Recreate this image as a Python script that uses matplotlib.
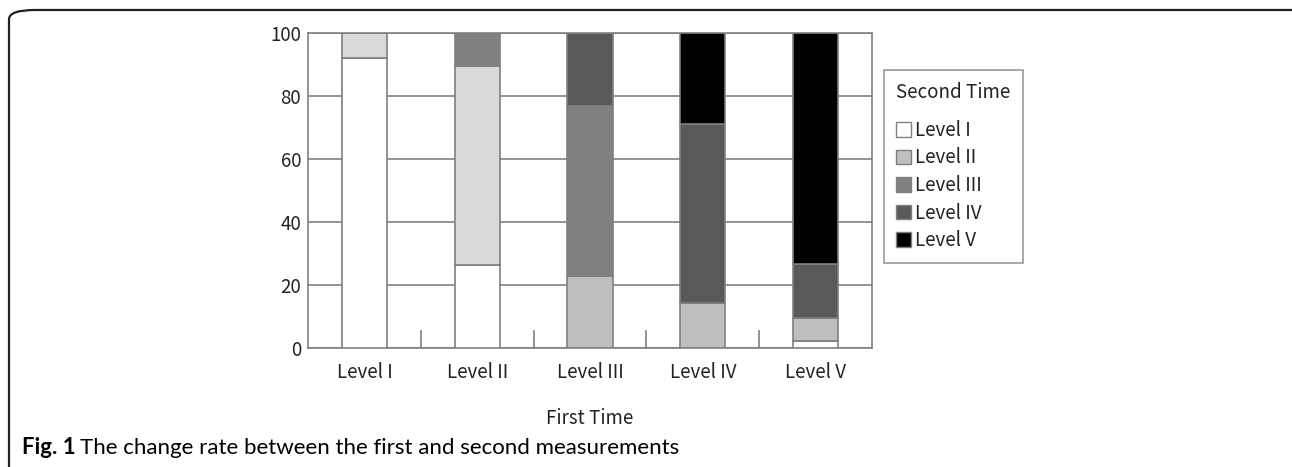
import numpy as np
import matplotlib.pyplot as plt
from matplotlib.patches import Patch, FancyBboxPatch

plt.rcParams['font.family'] = ['Noto Sans CJK KR', 'DejaVu Sans']

# Data: share (%) of each second-time level within each first-time level
first_time = ["Level I", "Level II", "Level III", "Level IV", "Level V"]
second_levels = ["Level I", "Level II", "Level III", "Level IV", "Level V"]
lvl1 = [92.2, 26.3, 0.0, 0.0, 2.3]
lvl2 = [7.8, 63.1, 22.9, 14.2, 7.3]
lvl3 = [0.0, 10.6, 54.0, 0.0, 0.0]
lvl4 = [0.0, 0.0, 23.1, 56.8, 17.0]
lvl5 = [0.0, 0.0, 0.0, 29.0, 73.4]

# fill colours (the original uses a lighter grey for Level II in the first two bars)
col1 = "white"
col2 = ["#d9d9d9", "#d9d9d9", "#bfbfbf", "#bfbfbf", "#bfbfbf"]
col3 = "#808080"
col4 = "#595959"
col5 = "#000000"
legend_cols = ["white", "#bfbfbf", "#808080", "#595959", "#000000"]

fs = 13.5

fig = plt.figure(figsize=(12.92, 4.67), dpi=100)
ax = fig.add_axes([308 / 1292, 1 - 348 / 467, 564 / 1292, 315 / 467])

x = np.arange(len(first_time))
w = 0.4
edge = "#7f7f7f"
bottom = np.zeros(len(x))
for vals, c in [(lvl1, col1), (lvl2, col2), (lvl3, col3), (lvl4, col4), (lvl5, col5)]:
    ax.bar(x, vals, w, bottom=bottom, color=c, edgecolor=edge, linewidth=1.2, zorder=3)
    bottom += np.array(vals)

ax.set_xlim(-0.5, 4.5)
ax.set_ylim(0, 100)
ax.set_yticks([0, 20, 40, 60, 80, 100])
ax.yaxis.grid(True, color="#808080", linewidth=1.2, zorder=0)
ax.tick_params(axis="y", length=0, pad=5, labelsize=fs, labelcolor="#222222")
ax.set_xticks(x)
ax.set_xticklabels(first_time)
ax.tick_params(axis="x", length=0, pad=10, labelsize=fs, labelcolor="#222222")
ax.set_xticks([0.5, 1.5, 2.5, 3.5], minor=True)
ax.tick_params(axis="x", which="minor", direction="in", length=13, width=1.2, color="#808080")
for s in ax.spines.values():
    s.set_color("#808080")
    s.set_linewidth(1.2)

fig.text(590 / 1292, 1 - 419 / 467, "First Time", ha="center", va="center",
         fontsize=fs, color="#222222")

handles = [Patch(facecolor=c, edgecolor=edge, linewidth=1) for c in legend_cols]
leg = fig.legend(handles, second_levels, title="Second Time",
                 loc="upper left", bbox_to_anchor=(884 / 1292, 1 - 70 / 467),
                 fontsize=fs, title_fontsize=fs, frameon=True, fancybox=False,
                 borderpad=0.65, labelspacing=0.35, handlelength=0.8, handleheight=0.8,
                 handletextpad=0.2, borderaxespad=0)
leg.get_frame().set_edgecolor("#808080")
leg.get_frame().set_linewidth(1.2)
leg._legend_box.align = "left"
leg._legend_box.sep = 12
leg.get_title().set_color("#222222")
for t in leg.get_texts():
    t.set_color("#222222")

# outer rounded frame of the figure panel
frame = FancyBboxPatch((9 / 1292, -0.2), 1.2, 1 - 10 / 467 + 0.2,
                       boxstyle="round,pad=0,rounding_size=0.02",
                       transform=fig.transFigure, fill=False,
                       edgecolor="#222222", linewidth=1.6, clip_on=False)
fig.patches.append(frame)

fig.text(22 / 1292, 1 - 448 / 467, "Fig. 1", fontweight="bold", fontsize=16,
         family="Lato", va="center", ha="left")
fig.text(80 / 1292, 1 - 448 / 467, "The change rate between the first and second measurements",
         fontsize=16, family="Lato", va="center", ha="left")

plt.savefig("out.png", dpi=100)
